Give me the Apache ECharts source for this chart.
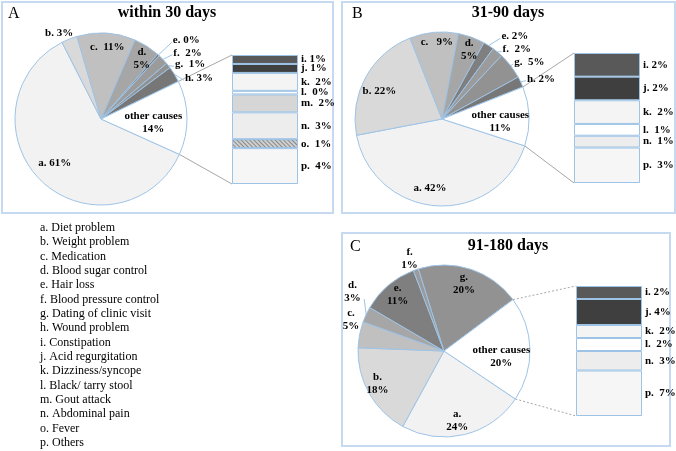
<!DOCTYPE html>
<html>
<head>
<meta charset="utf-8">
<script src="https://cdn.jsdelivr.net/npm/echarts@6/dist/echarts.min.js"></script>
<style>
html, body { margin: 0; padding: 0; background: #fff; }
#main { width: 676px; height: 451px; }
</style>
</head>
<body>
<div id="main"></div>
<script>
// reasons, used for the key under panel A
var causes = ['a. Diet problem', 'b. Weight problem', 'c. Medication', 'd. Blood sugar control',
  'e. Hair loss', 'f. Blood pressure control', 'g. Dating of clinic visit', 'h. Wound problem',
  'i. Constipation', 'j. Acid regurgitation', 'k. Dizziness/syncope', 'l. Black/ tarry stool',
  'm. Gout attack', 'n. Abdominal pain', 'o. Fever', 'p. Others'];

// A: within 30 days
var pieNamesA = ['a', 'b', 'c', 'd', 'e', 'f', 'g', 'h', 'other causes'];
var pieValuesA = [61, 3, 11, 5, 0.4, 2, 1, 3, 14];
var barNamesA = ['i', 'j', 'k', 'l', 'm', 'n', 'o', 'p'];
var barValuesA = [1, 1, 2, 0.4, 2, 3, 1, 4];

// B: 31-90 days
var pieNamesB = ['a', 'b', 'c', 'd', 'e', 'f', 'g', 'h', 'other causes'];
var pieValuesB = [42, 22, 9, 5, 2, 2, 5, 2, 11];
var barNamesB = ['i', 'j', 'k', 'l', 'n', 'p'];
var barValuesB = [2, 2, 2, 1, 1, 3];

// C: 91-180 days
var pieNamesC = ['a', 'b', 'c', 'd', 'e', 'f', 'g', 'other causes'];
var pieValuesC = [24, 18, 5, 3, 11, 1, 20, 20];
var barNamesC = ['i', 'j', 'k', 'l', 'n', 'p'];
var barValuesC = [2, 4, 2, 2, 3, 7];

var font = 'Liberation Serif';
var edge = '#9dc3e6';
var shade = {
  a: '#f2f2f2', b: '#d9d9d9', c: '#c0c0c0', d: '#a6a6a6', e: '#7f7f7f', f: '#9b9b9b',
  g: '#929292', h: '#777777', 'other causes': '#ffffff',
  i: '#595959', j: '#3f3f3f', k: '#f4f4f4', l: '#ffffff', m: '#d6d6d6', n: '#ededed',
  o: '#d0d0d0', p: '#f6f6f6'
};
var hatch = { symbol: 'rect', symbolSize: 1, dashArrayX: [1, 0], dashArrayY: [1, 2], rotation: Math.PI / 4, color: 'rgba(0,0,0,0.35)' };

// label placement: rf = fraction of radius, da = degrees off the slice middle
var panels = [
  { letter: 'A', title: 'within 30 days', names: pieNamesA, values: pieValuesA,
    barNames: barNamesA, barValues: barValuesA,
    box: [2, 2, 331, 211], titleX: 167, titleY: 13, letterX: 8,
    center: [101, 119], r: 86, start: 335.7,
    grid: { left: 232, top: 55, width: 66, height: 129 }, dash: null,
    labels: {
      a: { rf: 0.74, da: -3, sep: ' ' }, b: { rf: 1.11, da: 4.4, sep: ' ' },
      c: { rf: 0.84, da: -1.5, sep: '  ' }, d: { rf: 0.85, da: -1.8, sep: '\n' },
      e: { rf: 1.24, da: -0.5, sep: ' ', out: true }, f: { rf: 1.14, da: -1.3, sep: '  ', out: true },
      g: { rf: 1.07, da: -2, sep: '  ', out: true }, h: { rf: 1.085, da: -5.4, sep: ' ', out: true },
      'other causes': { rf: 0.61, da: -5, sep: '\n' }
    } },
  { letter: 'B', title: '31-90 days', names: pieNamesB, values: pieValuesB,
    barNames: barNamesB, barValues: barValuesB,
    box: [342, 2, 333, 211], titleX: 508, titleY: 13, letterX: 352,
    center: [442, 119], r: 87, start: 342,
    grid: { left: 574, top: 53, width: 66, height: 130 }, dash: null,
    labels: {
      a: { rf: 0.81, da: -6.3, sep: ' ' }, b: { rf: 0.79, da: 4.5, sep: ' ' },
      c: { rf: 0.89, da: -1.6, sep: '   ' }, d: { rf: 0.86, da: -1.5, sep: '\n' },
      e: { rf: 1.17, da: -3.3, sep: ' ', out: true }, f: { rf: 1.06, da: -1.5, sep: '  ', out: true },
      g: { rf: 1.06, da: 0.5, sep: '  ', out: true }, h: { rf: 1.08, da: 0.2, sep: ' ', out: true },
      'other causes': { rf: 0.67, da: -4, sep: '\n' }
    } },
  { letter: 'C', title: '91-180 days', names: pieNamesC, values: pieValuesC,
    barNames: barNamesC, barValues: barValuesC,
    box: [342, 233, 328, 213], titleX: 508, titleY: 246, letterX: 350,
    center: [444, 351], r: 86, start: 326.1,
    grid: { left: 576, top: 286, width: 66, height: 130 }, dash: [2, 2],
    labels: {
      a: { rf: 0.82, da: -3, sep: '\n' }, b: { rf: 0.86, da: -3.7, sep: '\n' },
      c: { rf: 1.14, da: -7.4, sep: '\n' }, d: { rf: 1.27, da: -8, sep: '\n', out: true, mid: true },
      e: { rf: 0.85, da: -0.8, sep: '\n' }, f: { rf: 1.15, da: 1.3, sep: '\n' },
      g: { rf: 0.82, da: 1.6, sep: '\n' }, 'other causes': { rf: 0.67, da: -7.5, sep: '\n' }
    } }
];

function sum(arr) { return arr.reduce(function (s, v) { return s + v; }, 0); }
function polar(p, deg, rad) {
  var t = deg * Math.PI / 180;
  return [p.center[0] + rad * Math.cos(t), p.center[1] - rad * Math.sin(t)];
}
function midAngles(p) {
  var total = sum(p.values), acc = 0;
  return p.values.map(function (v) {
    var m = p.start - (acc + v / 2) / total * 360;
    acc += v;
    return m;
  });
}

var chart = echarts.init(document.getElementById('main'));
var series = [], grids = [], xAxes = [], yAxes = [], graphics = [];

panels.forEach(function (p, k) {
  var mids = midAngles(p);
  var total = sum(p.values);

  series.push({
    type: 'pie',
    center: p.center,
    radius: p.r,
    startAngle: p.start,
    clockwise: true,
    avoidLabelOverlap: false,
    silent: true,
    data: p.names.map(function (n, i) {
      var s = p.labels[n];
      return {
        name: n, value: p.values[i],
        itemStyle: { color: shade[n] },
        label: { position: s.out ? 'outside' : 'inside' },
        labelLine: { show: !!s.out, lineStyle: { color: edge, width: 1 } }
      };
    }),
    itemStyle: { borderColor: edge, borderWidth: 1 },
    label: {
      show: true, color: '#000', fontFamily: font, fontWeight: 'bold', fontSize: 11, lineHeight: 13,
      formatter: function (d) {
        var s = p.labels[d.name];
        var pct = Math.round(d.value) + '%';
        return d.name.length > 1 ? d.name + s.sep + pct : d.name + '.' + s.sep + pct;
      }
    },
    labelLayout: function (params) {
      var n = p.names[params.dataIndex], s = p.labels[n];
      var ang = mids[params.dataIndex] + s.da;
      var pt = polar(p, ang, s.rf * p.r);
      var res = { x: pt[0], y: pt[1], align: (s.out && !s.mid) ? 'left' : 'center', verticalAlign: 'middle' };
      if (s.out) {
        var a = polar(p, mids[params.dataIndex], p.r);
        var b = s.mid ? polar(p, ang, s.rf * p.r - 14) : [pt[0] - 1, pt[1] + 2];
        res.labelLinePoints = [a, [(a[0] + b[0]) / 2, (a[1] + b[1]) / 2], b];
      }
      return res;
    }
  });

  grids.push(p.grid);
  xAxes.push({ type: 'category', gridIndex: k, data: [''], show: false });
  yAxes.push({ type: 'value', gridIndex: k, min: 0, max: sum(p.barValues), inverse: true, show: false });
  p.barNames.forEach(function (n, i) {
    series.push({
      type: 'bar', name: n, xAxisIndex: k, yAxisIndex: k, stack: 'rest' + k,
      barWidth: '100%', silent: true,
      data: [p.barValues[i]],
      itemStyle: { color: shade[n], borderColor: edge, borderWidth: 1, decal: (n === 'o' ? hatch : null) },
      label: {
        show: true, position: 'right', distance: 3, color: '#000',
        fontFamily: font, fontWeight: 'bold', fontSize: 11,
        formatter: function (d) {
          var sep = (n === 'i' || n === 'j') ? ' ' : '  ';
          return n + '.' + sep + Math.round(d.value) + '%';
        }
      }
    });
  });

  // panel frame, title and letter
  graphics.push({ type: 'rect', shape: { x: p.box[0], y: p.box[1], width: p.box[2], height: p.box[3] },
    style: { fill: 'none', stroke: '#c5d9f1', lineWidth: 2 }, z: 1 });
  graphics.push({ type: 'text', x: p.titleX, y: p.titleY,
    style: { text: p.title, font: 'bold 16px "' + font + '"', fill: '#000', textAlign: 'center', textVerticalAlign: 'middle' } });
  graphics.push({ type: 'text', x: p.letterX, y: p.titleY + 1,
    style: { text: p.letter, font: '16px "' + font + '"', fill: '#000', textAlign: 'left', textVerticalAlign: 'middle' } });

  // connector lines from the "other causes" slice to the bar
  var vOther = p.values[p.values.length - 1];
  var topPt = polar(p, p.start - (total - vOther) / total * 360, p.r);
  var botPt = polar(p, p.start, p.r);
  var g = p.grid;
  [[topPt, [g.left, g.top]], [botPt, [g.left, g.top + g.height]]].forEach(function (seg) {
    graphics.push({ type: 'line',
      shape: { x1: seg[0][0], y1: seg[0][1], x2: seg[1][0], y2: seg[1][1] },
      style: { stroke: '#a6a6a6', lineWidth: 1, lineDash: p.dash } });
  });
});

causes.forEach(function (t, i) {
  graphics.push({ type: 'text', x: 40, y: 228 + i * 14.33,
    style: { text: t, font: '12px "' + font + '"', fill: '#000', textAlign: 'left', textVerticalAlign: 'middle' } });
});

var option = {
  animation: false,
  grid: grids,
  xAxis: xAxes,
  yAxis: yAxes,
  series: series,
  graphic: graphics
};
chart.setOption(option);
</script>
</body>
</html>
